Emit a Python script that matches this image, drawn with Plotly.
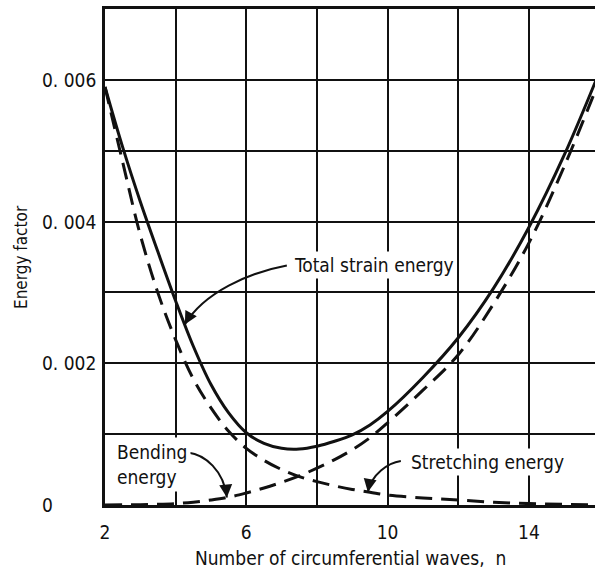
import numpy as np
import plotly.graph_objects as go

# Number of circumferential waves
n = [2, 2.5, 3, 3.5, 4, 4.5, 5, 5.5, 6, 6.5, 7, 7.5, 8, 8.5, 9, 9.5,
     10, 11, 12, 13, 14, 15, 16]

# Energy factors
total_strain = [0.00590, 0.00505, 0.00428, 0.00357, 0.00288, 0.00224, 0.00170,
                0.00130, 0.00102, 0.00087, 0.00080, 0.00079, 0.00083, 0.00090,
                0.00099, 0.00113, 0.00132, 0.00180, 0.00236, 0.00306, 0.00392,
                0.00494, 0.00612]
stretching = [0.0059, 0.00484, 0.00381, 0.00299, 0.00233, 0.00178, 0.00137,
              0.00104, 0.00080, 0.00063, 0.00050, 0.00040, 0.00033, 0.00027,
              0.00022, 0.00018, 0.00014, 0.00010, 0.00007, 0.00004, 0.00002,
              0.00001, 0.0]
bending = [0.0, 0.000002, 0.000005, 0.00001, 0.00002, 0.00004, 0.00007,
           0.00011, 0.00017, 0.00024, 0.00032, 0.00041, 0.00052, 0.00064,
           0.00078, 0.00095, 0.00116, 0.00162, 0.00212, 0.00284, 0.00370,
           0.00478, 0.00600]

x_grid = [2, 4, 6, 8, 10, 12, 14]
x_labels = ["2", "", "6", "", "10", "", "14"]
y_grid = [0, 0.001, 0.002, 0.003, 0.004, 0.005, 0.006, 0.007]
y_labels = {0: "0", 0.002: "0. 002", 0.004: "0. 004", 0.006: "0. 006"}

X_RANGE = [2, 15.87]
Y_RANGE = [0, 0.007]

W, H = 595, 572
ML, MR, MT, MB = 105, 0, 9, 67
PW, PH = W - ML - MR, H - MT - MB
SX = (X_RANGE[1] - X_RANGE[0]) / PW      # data units per pixel
SY = (Y_RANGE[1] - Y_RANGE[0]) / PH

FONT = "Liberation Sans Narrow, DejaVu Sans Condensed, Arial Narrow, sans-serif"
INK = "#111111"

fig = go.Figure()

fig.add_trace(go.Scatter(x=n, y=total_strain, mode="lines",
                         line=dict(color=INK, width=3, shape="spline", smoothing=1.0),
                         hoverinfo="skip"))
fig.add_trace(go.Scatter(x=n, y=stretching, mode="lines",
                         line=dict(color=INK, width=3, dash="17px,9px",
                                   shape="spline", smoothing=1.0),
                         hoverinfo="skip"))
fig.add_trace(go.Scatter(x=n, y=bending, mode="lines",
                         line=dict(color=INK, width=3, dash="17px,9px",
                                   shape="spline", smoothing=1.0),
                         hoverinfo="skip"))


def curved_arrow(tip_n, series, c1, c2, tail, head_dir):
    """Curved leader ending on a curve; offsets are in pixels from the tip."""
    tx = tip_n
    ty = float(np.interp(tip_n, n, series))

    def pt(d):
        return tx + d[0] * SX, ty - d[1] * SY

    p0, q1, q2 = pt(tail), pt(c1), pt(c2)
    path = (f"M {p0[0]},{p0[1]} C {q1[0]},{q1[1]} {q2[0]},{q2[1]} {tx},{ty}")
    fig.add_shape(type="path", path=path, xref="x", yref="y",
                  line=dict(color=INK, width=2))
    fig.add_annotation(x=tx, y=ty, xref="x", yref="y", text="",
                       showarrow=True, arrowhead=2, arrowsize=1.3,
                       arrowwidth=2, arrowcolor=INK,
                       ax=head_dir[0], ay=head_dir[1])


# Leaders from labels to curves
curved_arrow(4.26, total_strain, c1=(64, -52), c2=(19, -32), tail=(102, -59),
             head_dir=(6, -11))
curved_arrow(5.45, bending, c1=(-22, -43), c2=(-3, -27), tail=(-39, -45),
             head_dir=(-1, -11))
curved_arrow(9.44, stretching, c1=(20, -29), c2=(4, -18), tail=(33, -31),
             head_dir=(2, -11))

label_font = dict(family=FONT, size=19, color=INK)

fig.add_annotation(x=X_RANGE[0] + (374 - ML) * SX, y=(505 - 265) * SY,
                   xref="x", yref="y", text="Total strain energy",
                   showarrow=False, font=label_font, bgcolor="white", borderpad=2)
fig.add_annotation(x=X_RANGE[0] + (487 - ML) * SX, y=(505 - 462) * SY,
                   xref="x", yref="y", text="Stretching energy",
                   showarrow=False, font=label_font, bgcolor="white", borderpad=2)
fig.add_annotation(x=X_RANGE[0] + (113 - ML) * SX, y=(505 - 464) * SY,
                   xref="x", yref="y", text="Bending<br>energy", align="left",
                   xanchor="left", showarrow=False, font=label_font,
                   bgcolor="white", borderpad=3)

# y tick labels, left aligned
for v, t in y_labels.items():
    fig.add_annotation(x=(40 - ML) / PW, y=v, xref="paper", yref="y", text=t,
                       xanchor="left", yanchor="middle", showarrow=False,
                       font=label_font)

# axis titles
fig.add_annotation(x=(21 - ML) / PW, y=0.5, xref="paper", yref="paper",
                   text="Energy factor", textangle=-90, showarrow=False,
                   xanchor="center", yanchor="middle",
                   font=dict(family=FONT, size=17, color=INK))
fig.add_annotation(x=0.5, y=-(558 - (H - MB)) / PH, xref="paper", yref="paper",
                   text="Number of circumferential waves,  n", showarrow=False,
                   xanchor="center", yanchor="middle", font=label_font)

fig.update_xaxes(range=X_RANGE, tickvals=x_grid, ticktext=x_labels,
                 showgrid=True, gridcolor=INK, gridwidth=2,
                 showline=True, linecolor=INK, linewidth=3, mirror=True,
                 ticks="", ticklabelstandoff=8, zeroline=False,
                 tickfont=label_font)
fig.update_yaxes(range=Y_RANGE, tickvals=y_grid,
                 ticktext=[""] * len(y_grid),
                 showgrid=True, gridcolor=INK, gridwidth=2,
                 showline=True, linecolor=INK, linewidth=3, mirror=False,
                 ticks="", zeroline=False)

fig.update_layout(width=W, height=H, showlegend=False,
                  margin=dict(l=ML, r=MR, t=MT, b=MB),
                  plot_bgcolor="white", paper_bgcolor="white",
                  font=dict(family=FONT, color=INK))

fig.write_html("out.html")
